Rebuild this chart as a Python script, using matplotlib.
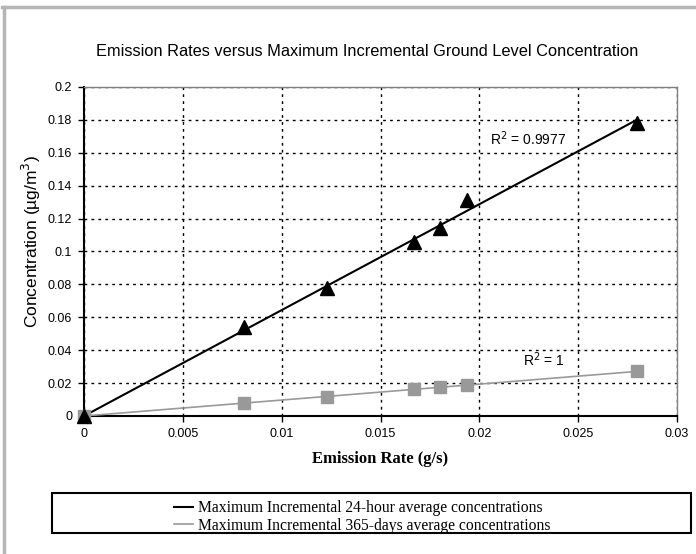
import numpy as np
import matplotlib.pyplot as plt
from matplotlib.lines import Line2D
from matplotlib.patches import Rectangle

# Datos
rate = np.array([0, 0.0081, 0.0123, 0.0167, 0.0180, 0.0194, 0.0280])
conc_24h = np.array([0, 0.054, 0.078, 0.106, 0.114, 0.131, 0.178])
conc_365d = np.array([0, 0.0078, 0.0118, 0.0162, 0.0174, 0.0188, 0.0272])

xticks = [0, 0.005, 0.01, 0.015, 0.02, 0.025, 0.03]
yticks = [0, 0.02, 0.04, 0.06, 0.08, 0.1, 0.12, 0.14, 0.16, 0.18, 0.2]
xticklabels = ["0", "0.005", "0.01", "0.015", "0.02", "0.025", "0.03"]
yticklabels = ["0", "0.02", "0.04", "0.06", "0.08", "0.1", "0.12", "0.14", "0.16", "0.18", "0.2"]

lab_24h = "Maximum Incremental 24-hour average concentrations"
lab_365d = "Maximum Incremental 365-days average concentrations"
r2_24h = "R$^2$ = 0.9977"
r2_365d = "R$^2$ = 1"

gris = "#999999"
sans = "Liberation Sans"
serif = "Liberation Serif"

fig = plt.figure(figsize=(6.96, 5.54), dpi=100)
ax = fig.add_axes([0.1207, 0.2491, 0.852, 0.594])

# Tendencias lineales (por el origen)
xs = np.array([rate.min(), rate.max()])
for y, c in [(conc_24h, "black"), (conc_365d, gris)]:
    m = np.sum(rate * y) / np.sum(rate ** 2)
    ax.plot(xs, m * xs, color=c, lw=1.5 if c == "black" else 1.2, zorder=3)

ax.plot(rate, conc_365d, "s", color=gris, ms=8, zorder=4, clip_on=False)
ax.plot(rate, conc_24h, "^", color="black", ms=10, zorder=5, clip_on=False)

ax.text(0.02246, 0.1685, r2_24h, fontsize=10, family=sans, ha="center", va="center")
ax.text(0.02327, 0.034, r2_365d, fontsize=10, family=sans, ha="center", va="center")

ax.set_xlim(0, 0.03)
ax.set_ylim(0, 0.2)
ax.set_xticks(xticks)
ax.set_xticklabels(xticklabels, family=sans, fontsize=9)
ax.set_yticks(yticks)
ax.set_yticklabels(yticklabels, family=sans, fontsize=9)
ax.tick_params(direction="out", length=4.5, width=1, pad=4)
ax.grid(True, color="black", linestyle=(0, (2, 3)), lw=1)

for s in ["left", "bottom"]:
    ax.spines[s].set_linewidth(1.5)
for s in ["top", "right"]:
    ax.spines[s].set_color("#808080")
    ax.spines[s].set_linewidth(1)

ax.set_xlabel("Emission Rate (g/s)", family=serif, fontweight="bold", fontsize=12, labelpad=8)
ax.set_ylabel("Concentration (\u00b5g/m$^3$)", family=sans, fontsize=12.5)
ax.yaxis.set_label_coords(-0.069, 0.529)
ax.set_title("Emission Rates versus Maximum Incremental Ground Level Concentration",
             family=sans, fontsize=11.8, pad=22, x=0.478)

# Leyenda
fig.patches.append(Rectangle((52 / 696, 1 - 533 / 554), 639 / 696, 40 / 554,
                             transform=fig.transFigure, fill=False, ec="black", lw=1.5))
handles = [Line2D([], [], color="black", lw=1.5), Line2D([], [], color=gris, lw=1.2)]
fig.legend(handles, [lab_24h, lab_365d], loc="center", bbox_to_anchor=(362 / 696, 1 - 517 / 554),
           frameon=False, prop={"family": serif, "size": 11.25}, labelspacing=0.12,
           handlelength=1.25, handletextpad=0.3)

# Marco exterior
fig.add_artist(Line2D([2 / 696, 1], [1 - 6.5 / 554] * 2, transform=fig.transFigure, color="#b5b5b5", lw=2.5))
fig.add_artist(Line2D([3.5 / 696] * 2, [0, 1 - 6.5 / 554], transform=fig.transFigure, color="#b5b5b5", lw=2.5))

fig.savefig("out.png", dpi=100)
